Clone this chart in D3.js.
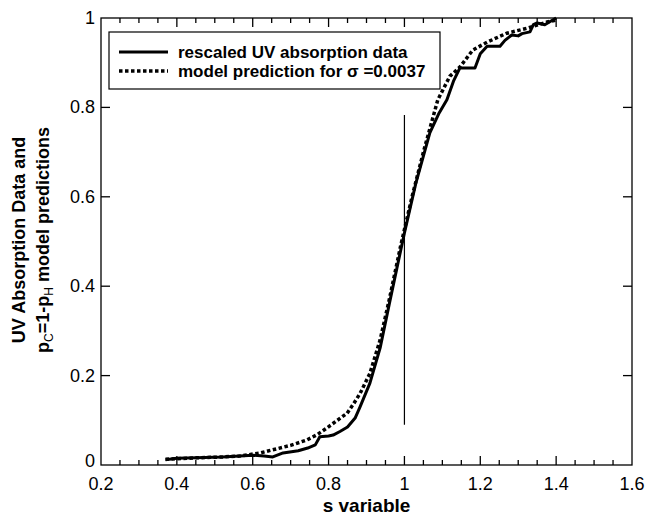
<!DOCTYPE html>
<html>
<head>
<meta charset="utf-8">
<script src="https://cdn.jsdelivr.net/npm/d3@7"></script>
<style>
  body { margin: 0; background: #fff; }
  svg { display: block; font-family: "Liberation Sans", Arial, sans-serif; }
</style>
</head>
<body>
<div id="chart"></div>
<script>
// rescaled UV absorption data (solid)
const sData = [0.37, 0.40, 0.45, 0.52, 0.60, 0.63, 0.653, 0.68, 0.72, 0.745, 0.765, 0.777, 0.80, 0.812, 0.83, 0.85, 0.87, 0.883, 0.909, 0.936, 0.96, 0.98, 1.0, 1.03, 1.067, 1.09, 1.112, 1.13, 1.146, 1.186, 1.20, 1.218, 1.252, 1.265, 1.283, 1.30, 1.31, 1.331, 1.34, 1.35, 1.37, 1.39, 1.40];
const yData = [0.012, 0.015, 0.016, 0.018, 0.022, 0.020, 0.018, 0.027, 0.032, 0.038, 0.045, 0.063, 0.065, 0.067, 0.075, 0.085, 0.105, 0.13, 0.183, 0.262, 0.36, 0.44, 0.519, 0.63, 0.743, 0.785, 0.817, 0.86, 0.888, 0.888, 0.92, 0.937, 0.937, 0.95, 0.962, 0.96, 0.965, 0.969, 0.985, 0.989, 0.985, 0.995, 1.0];

// model prediction (dotted)
const sModel = [0.37, 0.45, 0.52, 0.566, 0.62, 0.653, 0.70, 0.743, 0.77, 0.796, 0.82, 0.849, 0.866, 0.883, 0.909, 0.936, 0.96, 0.99, 1.02, 1.05, 1.088, 1.12, 1.146, 1.18, 1.218, 1.27, 1.323, 1.376, 1.40];
const yModel = [0.013, 0.016, 0.018, 0.020, 0.027, 0.034, 0.044, 0.056, 0.068, 0.083, 0.098, 0.116, 0.137, 0.16, 0.205, 0.28, 0.37, 0.49, 0.60, 0.70, 0.817, 0.87, 0.89, 0.928, 0.946, 0.966, 0.977, 0.991, 0.995];

// vertical marker at s = 1
const markerS = 1.0;
const markerY = [0.09, 0.783];

const xTicks = [0.2, 0.4, 0.6, 0.8, 1, 1.2, 1.4, 1.6];
const yTicks = [0, 0.2, 0.4, 0.6, 0.8, 1];
const legendLabels = ["rescaled UV absorption data", "model prediction for \u03c3 =0.0037"];

const width = 647, height = 516;
const margin = { left: 101, right: 15, top: 18, bottom: 51 };

const svg = d3.select("#chart").append("svg")
    .attr("width", width)
    .attr("height", height);

const x = d3.scaleLinear().domain([0.2, 1.6]).range([margin.left, width - margin.right]);
const y = d3.scaleLinear().domain([0, 1]).range([height - margin.bottom, margin.top]);

const x0 = x.range()[0], x1 = x.range()[1];
const y0 = y.range()[0], y1 = y.range()[1];

// frame
svg.append("rect")
    .attr("x", x0).attr("y", y1)
    .attr("width", x1 - x0).attr("height", y0 - y1)
    .attr("fill", "none").attr("stroke", "#000").attr("stroke-width", 1.3);

// x ticks (bottom and top, inward, minor every 0.05)
const xMinor = d3.range(0.25, 1.6, 0.05).filter(v => Math.abs(v * 5 - Math.round(v * 5)) > 1e-6);
const tickG = svg.append("g").attr("stroke", "#000").attr("stroke-width", 1.3);
xTicks.slice(1, -1).forEach(v => {
  tickG.append("line").attr("x1", x(v)).attr("x2", x(v)).attr("y1", y0).attr("y2", y0 - 9);
  tickG.append("line").attr("x1", x(v)).attr("x2", x(v)).attr("y1", y1).attr("y2", y1 + 9);
});
xMinor.forEach(v => {
  tickG.append("line").attr("x1", x(v)).attr("x2", x(v)).attr("y1", y0).attr("y2", y0 - 5);
  tickG.append("line").attr("x1", x(v)).attr("x2", x(v)).attr("y1", y1).attr("y2", y1 + 5);
});
yTicks.slice(1, -1).forEach(v => {
  tickG.append("line").attr("x1", x0).attr("x2", x0 + 9).attr("y1", y(v)).attr("y2", y(v));
  tickG.append("line").attr("x1", x1).attr("x2", x1 - 9).attr("y1", y(v)).attr("y2", y(v));
});

// tick labels
svg.append("g").selectAll("text").data(xTicks).join("text")
    .attr("x", d => x(d))
    .attr("y", y0 + 25)
    .attr("text-anchor", "middle")
    .attr("font-size", 18)
    .text(d => d);

svg.append("g").selectAll("text").data(yTicks).join("text")
    .attr("x", x0 - 6)
    .attr("y", d => y(d) + (d === 0 ? 2 : 6))
    .attr("text-anchor", "end")
    .attr("font-size", 18)
    .text(d => d);

// axis titles
svg.append("text")
    .attr("x", (x0 + x1) / 2)
    .attr("y", 512)
    .attr("text-anchor", "middle")
    .attr("font-size", 19)
    .attr("font-weight", "bold")
    .text("s variable");

const yt = svg.append("g").attr("transform", "translate(0,240) rotate(-90)")
    .attr("font-size", 18).attr("font-weight", "bold").attr("text-anchor", "middle");
yt.append("text").attr("x", 0).attr("y", 25).text("UV Absorption Data and");
const yt2 = yt.append("text").attr("x", 0).attr("y", 49);
yt2.append("tspan").text("p");
yt2.append("tspan").attr("font-size", 12).attr("font-weight", "normal").attr("dy", 4).text("C");
yt2.append("tspan").attr("dy", -4).text("=1-p");
yt2.append("tspan").attr("font-size", 12).attr("font-weight", "normal").attr("dy", 4).text("H");
yt2.append("tspan").attr("dy", -4).text(" model predictions");

// marker line
svg.append("line")
    .attr("x1", x(markerS)).attr("x2", x(markerS))
    .attr("y1", y(markerY[0])).attr("y2", y(markerY[1]))
    .attr("stroke", "#000").attr("stroke-width", 1.2);

const line = d3.line().x(d => x(d[0])).y(d => y(d[1]));

svg.append("path")
    .datum(d3.zip(sModel, yModel))
    .attr("d", line)
    .attr("fill", "none")
    .attr("stroke", "#000")
    .attr("stroke-width", 3.5)
    .attr("stroke-dasharray", "3.5,2.5");

svg.append("path")
    .datum(d3.zip(sData, yData))
    .attr("d", line)
    .attr("fill", "none")
    .attr("stroke", "#000")
    .attr("stroke-width", 3)
    .attr("stroke-linejoin", "round");

// legend
const lg = svg.append("g");
lg.append("rect")
    .attr("x", 109).attr("y", 32).attr("width", 331).attr("height", 57)
    .attr("fill", "#fff").attr("stroke", "#000").attr("stroke-width", 1.2);
legendLabels.forEach((t, i) => {
  const ly = 52 + i * 19;
  lg.append("line")
      .attr("x1", 119).attr("x2", 168).attr("y1", ly).attr("y2", ly)
      .attr("stroke", "#000")
      .attr("stroke-width", i === 0 ? 3 : 3.5)
      .attr("stroke-dasharray", i === 0 ? null : "3.5,2.5");
  lg.append("text")
      .attr("x", 178).attr("y", ly + 6)
      .attr("font-size", 17).attr("font-weight", "bold")
      .text(t);
});
</script>
</body>
</html>
